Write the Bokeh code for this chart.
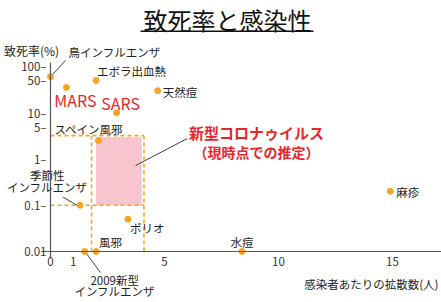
from bokeh.plotting import figure
from bokeh.models import ColumnDataSource, Range1d, FixedTicker, Label, BoxAnnotation
from bokeh.core.properties import value
from bokeh.embed import file_html
from bokeh.resources import INLINE

# ---- data ----
diseases = ["鳥インフルエンザ", "エボラ出血熱", "MARS", "天然痘", "SARS", "スペイン風邪",
            "季節性\nインフルエンザ", "ポリオ", "風邪", "2009新型\nインフルエンザ", "水痘", "麻疹"]
spread = [0.0, 2.0, 0.7, 4.7, 2.9, 2.1, 1.3, 3.4, 2.0, 1.5, 8.4, 14.9]     # 感染者あたりの拡散数(人)
fatality = [60, 50, 35, 30, 10, 2.5, 0.1, 0.05, 0.01, 0.01, 0.01, 0.2]      # 致死率(%)

covid_spread_outer = [1.8, 4.1]
covid_fatal_outer = [0.1, 3.2]
covid_spread_inner = [2.0, 4.0]
covid_fatal_inner = [0.1, 3.0]

x_ticks = [0, 1, 5, 10, 15]
y_ticks = [0.01, 0.1, 1, 5, 10, 50, 100]
y_tick_labels = ["0.01", "0.1–", "1–", "5–", "10–", "50–", "100–"]

# leader lines (annotation geometry, data units)
lead_x0 = [0.0, 0.55, 1.58, 3.73]
lead_y0 = [60, 0.15, 0.009, 0.72]
lead_x1 = [0.66, 1.2, 2.19, 6.0]
lead_y1 = [135, 0.097, 0.0035, 2.77]

# ---- label styles ----
lab_dx = [18, 1, 9, 5, 4, -44, -33, 2, 3, 30, 0, 6]
lab_dy = [-25, -9, 12, 1, -10, -12, -24, 9, -9, 34, -9, 1]
lab_align = ["left", "left", "center", "left", "center", "left", "center", "left", "left", "center", "center", "left"]
lab_color = ["#222222"] * 12
lab_size = ["11.5px"] * 12
for i in (2, 4):
    lab_color[i] = "#e8262b"
    lab_size[i] = "16px"

FONT = "Noto Sans CJK JP"
ORANGE = "#f4a521"

W, H = 441, 302
p = figure(width=W, height=H, x_range=Range1d(-2.193, 17.149), y_range=Range1d(0.000789, 2673),
           y_axis_type="log", output_backend="svg", toolbar_location=None, min_border=0)
p.outline_line_color = None
p.xgrid.visible = False
p.ygrid.visible = False
p.background_fill_color = "white"

# axes
p.xaxis.fixed_location = 0.01
p.yaxis.fixed_location = 0
p.xaxis.bounds = (-0.4, 17.149)
p.yaxis.bounds = (0.007, 122)
p.xaxis.ticker = FixedTicker(ticks=x_ticks)
p.yaxis.ticker = FixedTicker(ticks=y_ticks)
p.yaxis.major_label_overrides = dict(zip(y_ticks, y_tick_labels))
for ax in (p.xaxis[0], p.yaxis[0]):
    ax.axis_line_color = "#555555"
    ax.axis_line_width = 1.2
    ax.major_tick_in = 0
    ax.major_tick_out = 0
    ax.minor_tick_in = 0
    ax.minor_tick_out = 0
    ax.major_label_text_font = FONT
    ax.major_label_text_font_size = "11.5px"
    ax.major_label_text_color = "#333333"
p.xaxis.major_label_standoff = 6
p.yaxis.major_label_standoff = 4

# new corona region
p.quad(left=[covid_spread_inner[0]], right=[covid_spread_inner[1]],
       bottom=[covid_fatal_inner[0]], top=[covid_fatal_inner[1]],
       fill_color="#f6c5cd", line_color=None)
sx0, sx1 = covid_spread_outer
fy0, fy1 = covid_fatal_outer
p.segment(x0=[0, 0, sx0, sx1], y0=[fy0, fy1, 0.01, 0.01],
          x1=[sx1, sx1, sx0, sx1], y1=[fy0, fy1, fy1, fy1],
          line_color=ORANGE, line_width=1.6, line_dash="4 3")

# leader lines
p.segment(x0=lead_x0, y0=lead_y0, x1=lead_x1, y1=lead_y1, line_color="#444444", line_width=1)

src = ColumnDataSource(dict(x=spread, y=fatality, label=diseases, dx=lab_dx, dy=lab_dy,
                            align=lab_align, color=lab_color, size=lab_size))
p.scatter("x", "y", source=src, size=6, fill_color=ORANGE, line_color=ORANGE)
p.text("x", "y", text="label", source=src, x_offset="dx", y_offset="dy", text_align="align",
       text_baseline="middle", text_color="color", text_font_size="size",
       text_font=value(FONT), text_line_height=0.72)

# texts
p.add_layout(Label(x=227, y=H - 19, x_units="screen", y_units="screen", text="致死率と感染性",
                   text_align="center", text_baseline="middle", text_font=FONT,
                   text_font_size="24px", text_color="#111111"))
p.add_layout(BoxAnnotation(left=140, right=313, top=H - 30, bottom=H - 31.6,
                           left_units="screen", right_units="screen", top_units="screen",
                           bottom_units="screen", fill_color="#111111", fill_alpha=1, line_color=None))
p.add_layout(Label(x=31, y=H - 50, x_units="screen", y_units="screen", text="致死率(%)",
                   text_align="center", text_baseline="middle", text_font=FONT,
                   text_font_size="12px", text_color="#222222"))
p.add_layout(Label(x=438, y=H - 283, x_units="screen", y_units="screen", text="感染者あたりの拡散数(人)",
                   text_align="right", text_baseline="middle", text_font=FONT,
                   text_font_size="11.5px", text_color="#222222"))
p.add_layout(Label(x=256, y=H - 132, x_units="screen", y_units="screen", text="新型コロナゥイルス",
                   text_align="center", text_baseline="middle", text_font=FONT, text_font_style="bold",
                   text_font_size="15px", text_color="#e8262b"))
p.add_layout(Label(x=256, y=H - 151, x_units="screen", y_units="screen", text="（現時点での推定）",
                   text_align="center", text_baseline="middle", text_font=FONT, text_font_style="bold",
                   text_font_size="14px", text_color="#e8262b"))

open("out.html", "w").write(file_html(p, INLINE))
